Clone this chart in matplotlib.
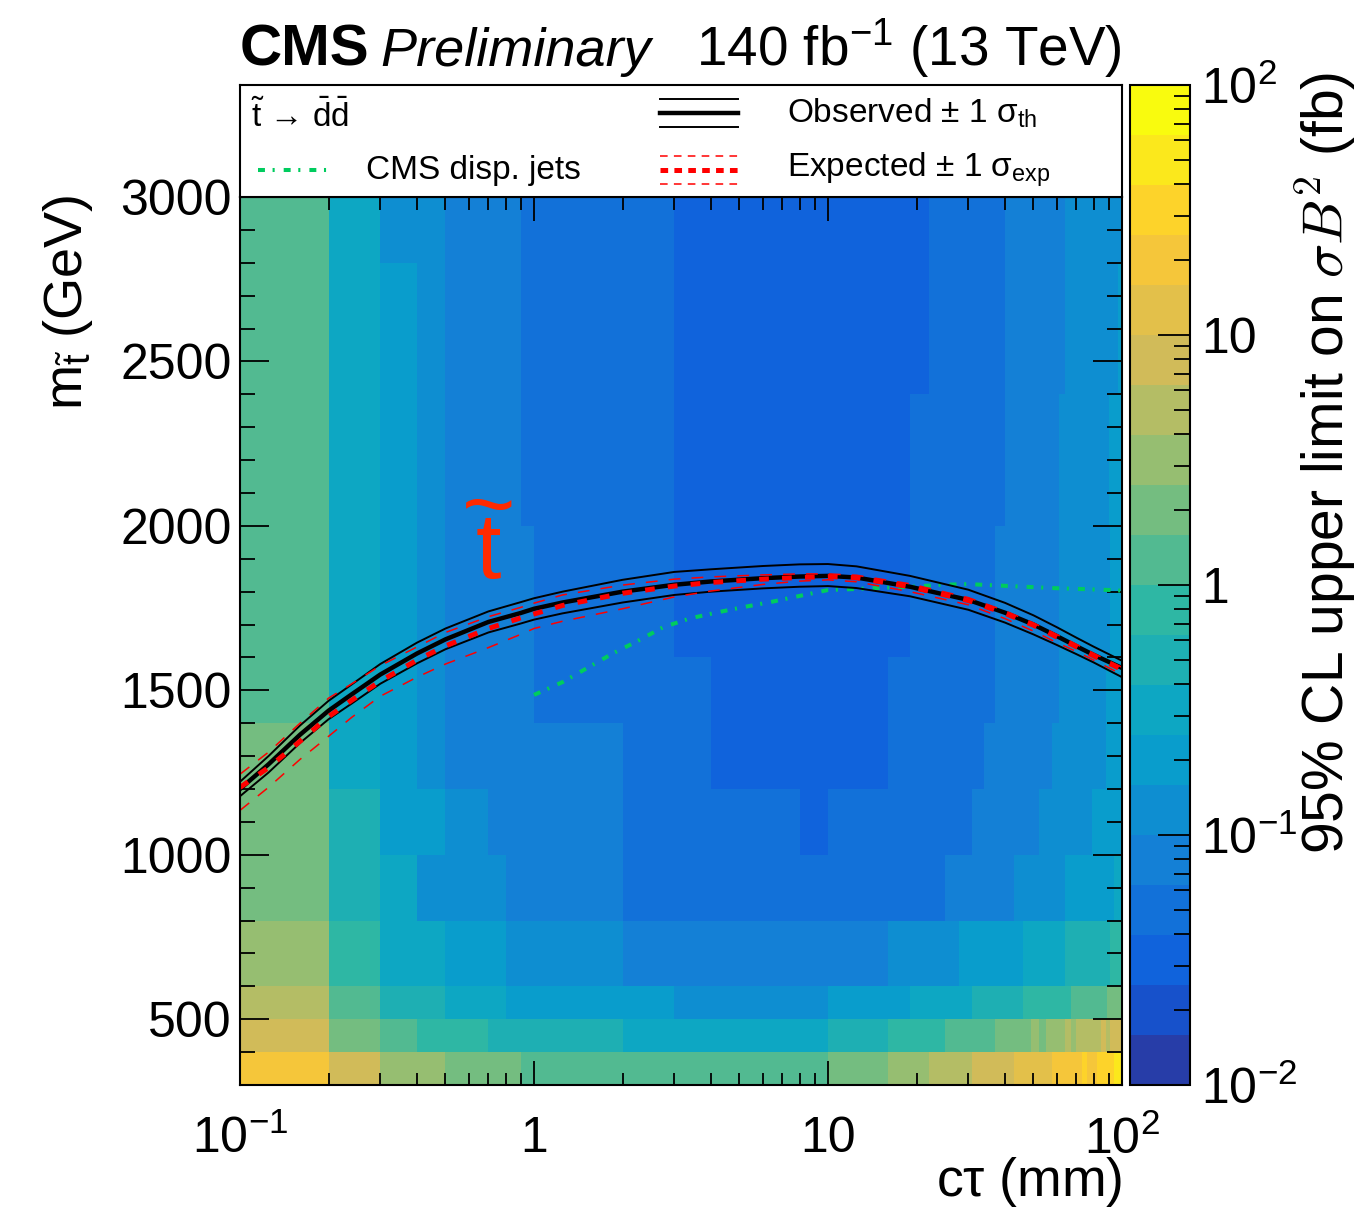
import numpy as np
import matplotlib.pyplot as plt
from matplotlib.colors import ListedColormap, LogNorm
from matplotlib.ticker import FixedLocator, FixedFormatter, NullFormatter

plt.rcParams['font.family'] = ['Liberation Sans', 'DejaVu Sans']
plt.rcParams['mathtext.fontset'] = 'custom'
plt.rcParams['mathtext.rm'] = 'Liberation Sans'
plt.rcParams['mathtext.it'] = 'Liberation Sans:italic'
plt.rcParams['mathtext.bf'] = 'Liberation Sans:bold'
plt.rcParams['mathtext.sf'] = 'Liberation Sans'
plt.rcParams['lines.scale_dashes'] = False

# ---- 95% CL upper limits on sigma*B^2 (fb) ----
# stop-mass bands (GeV); every band has its own ctau bin edges (mm) and limits
mass_edges = [300, 400, 500, 600, 800, 1000, 1200, 1400, 1600, 1800, 2000,
              2200, 2400, 2600, 2800, 3000]

ctau_m300 = [0.1, 0.2, 0.3, 0.5, 0.9, 10, 16, 22, 31, 43, 58, 73, 76, 82, 88, 94, 100]
ul_m300 = [20, 8.0, 3.2, 2.0, 1.3, 2.0, 3.2, 5.0, 8.0, 13, 20, 32, 22, 30, 35, 45]

ctau_m400 = [0.1, 0.2, 0.3, 0.4, 0.7, 2, 10, 16, 25, 37, 49, 52, 55, 64, 67, 70, 85, 88, 91, 100]
ul_m400 = [8.0, 2.0, 1.3, 0.8, 0.5, 0.32, 0.5, 0.8, 1.3, 2.0, 3.2, 2.2, 3.5, 4.5, 3.8, 5.5, 7.0, 6.0, 8.0]

ctau_m500 = [0.1, 0.2, 0.3, 0.5, 0.8, 3, 10, 19, 31, 46, 67, 89, 100]
ul_m500 = [5.0, 1.3, 0.5, 0.32, 0.2, 0.13, 0.2, 0.32, 0.5, 0.8, 1.3, 2.0]

ctau_m600 = [0.1, 0.2, 0.3, 0.5, 0.8, 2, 16, 28, 46, 64, 91, 100]
ul_m600 = [3.2, 0.8, 0.32, 0.2, 0.13, 0.08, 0.13, 0.2, 0.32, 0.5, 0.8]

ctau_m800 = [0.1, 0.2, 0.3, 0.4, 0.8, 2, 25, 43, 64, 94, 100]
ul_m800 = [2.0, 0.5, 0.32, 0.13, 0.08, 0.05, 0.08, 0.13, 0.2, 0.32]

ctau_m1000 = [0.1, 0.2, 0.3, 0.5, 0.7, 2, 8, 10, 31, 52, 79, 100]
ul_m1000 = [2.0, 0.5, 0.2, 0.13, 0.08, 0.05, 0.032, 0.05, 0.08, 0.13, 0.2]

ctau_m1200 = [0.1, 0.2, 0.3, 0.4, 0.5, 2, 4, 16, 34, 58, 88, 100]
ul_m1200 = [2.0, 0.32, 0.2, 0.13, 0.08, 0.05, 0.032, 0.05, 0.08, 0.13, 0.2]

ctau_m1400 = [0.1, 0.2, 0.3, 0.4, 0.5, 1, 4, 16, 37, 61, 88, 100]
ul_m1400 = [1.3, 0.32, 0.2, 0.13, 0.08, 0.05, 0.032, 0.05, 0.08, 0.13, 0.2]

ctau_m1600 = [0.1, 0.2, 0.3, 0.4, 0.5, 1, 3, 19, 37, 61, 91, 100]
ul_m1600 = [1.3, 0.32, 0.2, 0.13, 0.08, 0.05, 0.032, 0.05, 0.08, 0.13, 0.2]

ctau_m1800 = [0.1, 0.2, 0.3, 0.4, 0.5, 1, 3, 19, 37, 61, 91, 100]
ul_m1800 = [1.3, 0.32, 0.2, 0.13, 0.08, 0.05, 0.032, 0.05, 0.08, 0.13, 0.2]

ctau_m2000 = [0.1, 0.2, 0.3, 0.4, 0.5, 0.9, 3, 19, 40, 61, 90, 100]
ul_m2000 = [1.3, 0.32, 0.2, 0.13, 0.08, 0.05, 0.032, 0.05, 0.08, 0.13, 0.2]

ctau_m2200 = [0.1, 0.2, 0.3, 0.4, 0.5, 0.9, 3, 19, 40, 61, 90, 100]
ul_m2200 = [1.3, 0.32, 0.2, 0.13, 0.08, 0.05, 0.032, 0.05, 0.08, 0.13, 0.2]

ctau_m2400 = [0.1, 0.2, 0.3, 0.4, 0.5, 0.9, 3, 22, 40, 64, 97, 100]
ul_m2400 = [1.3, 0.32, 0.2, 0.13, 0.08, 0.05, 0.032, 0.05, 0.08, 0.13, 0.2]

ctau_m2600 = [0.1, 0.2, 0.3, 0.4, 0.5, 0.9, 3, 22, 40, 64, 97, 100]
ul_m2600 = [1.3, 0.32, 0.2, 0.13, 0.08, 0.05, 0.032, 0.05, 0.08, 0.13, 0.2]

ctau_m2800 = [0.1, 0.2, 0.3, 0.5, 0.9, 3, 22, 40, 64, 100]
ul_m2800 = [1.3, 0.32, 0.13, 0.08, 0.05, 0.032, 0.05, 0.08, 0.13]

bands = [(ctau_m300, ul_m300), (ctau_m400, ul_m400), (ctau_m500, ul_m500),
         (ctau_m600, ul_m600), (ctau_m800, ul_m800), (ctau_m1000, ul_m1000),
         (ctau_m1200, ul_m1200), (ctau_m1400, ul_m1400), (ctau_m1600, ul_m1600),
         (ctau_m1800, ul_m1800), (ctau_m2000, ul_m2000), (ctau_m2200, ul_m2200),
         (ctau_m2400, ul_m2400), (ctau_m2600, ul_m2600), (ctau_m2800, ul_m2800)]

# ---- exclusion contours ----
lim_ctau = [0.1, 0.125, 0.16, 0.2, 0.24, 0.3, 0.4, 0.5, 0.7, 0.9, 1.0, 1.25, 2, 3,
            4, 6, 8, 10, 12.5, 19, 30, 40, 50, 60, 70, 80, 100]
obs_mass = [1200, 1275, 1365, 1438, 1488, 1548, 1612, 1655, 1708, 1735, 1748, 1767,
            1800, 1821, 1831, 1841, 1846, 1848, 1843, 1815, 1775, 1736, 1700, 1665,
            1634, 1608, 1568]
obs_up = [1222, 1300, 1393, 1468, 1518, 1580, 1645, 1688, 1740, 1768, 1780, 1800,
          1836, 1860, 1868, 1878, 1883, 1884, 1877, 1848, 1806, 1766, 1728, 1692,
          1660, 1633, 1590]
obs_dn = [1178, 1250, 1340, 1412, 1460, 1520, 1582, 1625, 1676, 1703, 1715, 1734,
          1767, 1790, 1800, 1810, 1815, 1817, 1811, 1786, 1745, 1706, 1670, 1638,
          1610, 1585, 1540]
exp_mass = [1205, 1265, 1345, 1420, 1470, 1528, 1592, 1635, 1688, 1720, 1732, 1758,
            1795, 1817, 1828, 1838, 1843, 1846, 1842, 1815, 1773, 1734, 1698, 1662,
            1632, 1605, 1563]
exp_up = [1245, 1312, 1400, 1476, 1520, 1575, 1632, 1676, 1724, 1752, 1765, 1790,
          1820, 1838, 1845, 1851, 1854, 1854, 1850, 1824, 1782, 1742, 1705, 1670,
          1640, 1613, 1570]
exp_dn = [1135, 1205, 1290, 1360, 1418, 1482, 1540, 1580, 1630, 1670, 1688, 1710,
          1748, 1784, 1802, 1822, 1832, 1836, 1830, 1800, 1760, 1718, 1680, 1645,
          1618, 1592, 1548]

# earlier CMS displaced-jets result
dj_ctau = [1, 1.25, 1.86, 2.23, 2.75, 3.4, 4.2, 5.15, 6.5, 8, 10, 12.3, 15.6, 19.3,
           24.3, 30, 37.4, 46.6, 58, 73, 91, 100]
dj_mass = [1486, 1525, 1613, 1648, 1692, 1719, 1737, 1753, 1770, 1787, 1805, 1808,
           1812, 1815, 1821, 1823, 1819, 1815, 1811, 1808, 1805, 1803]

# ROOT kBird palette with 20 contour levels
bird_r = [0.2082, 0.0592, 0.0780, 0.0232, 0.1802, 0.5301, 0.8186, 0.9956, 0.9764]
bird_g = [0.1664, 0.3599, 0.5041, 0.6419, 0.7178, 0.7492, 0.7328, 0.7862, 0.9832]
bird_b = [0.5293, 0.8684, 0.8385, 0.7914, 0.6425, 0.4662, 0.3499, 0.1968, 0.0539]
stops = np.linspace(0, 1, 9)
frac = np.floor((np.arange(20) + 0.99) * 255 / 20) / 254
pal = np.column_stack([np.interp(frac, stops, c) for c in (bird_r, bird_g, bird_b)])
cmap = ListedColormap(pal)
norm = LogNorm(vmin=1e-2, vmax=1e2)

# put all bands on one common ctau grid
all_edges = np.array(sorted(set(e for ed, _ in bands for e in ed)))
mids = np.sqrt(all_edges[:-1] * all_edges[1:])
Z = np.array([np.asarray(v)[np.searchsorted(ed, mids, side='right') - 1]
              for ed, v in bands])

W, H = 1357, 1208
fig = plt.figure(figsize=(W / 100, H / 100), dpi=100)


def box(l, t, r, b):
    return [l / W, 1 - b / H, (r - l) / W, (b - t) / H]


ax = fig.add_axes(box(240, 197, 1122, 1085))
lax = fig.add_axes(box(240, 85, 1122, 197))
cax = fig.add_axes(box(1130, 85, 1190, 1085))

mesh = ax.pcolormesh(all_edges, mass_edges, Z, cmap=cmap, norm=norm,
                     shading='flat', antialiased=False, linewidth=0)

red = '#ff0000'
green = '#00cc5e'
ax.plot(dj_ctau, dj_mass, color=green, lw=2.9, dashes=(5, 5.5, 1.5, 6.5))
ax.plot(lim_ctau, obs_up, color='k', lw=1.4)
ax.plot(lim_ctau, obs_dn, color='k', lw=1.4)
ax.plot(lim_ctau, obs_mass, color='k', lw=3.2)
ax.plot(lim_ctau, exp_up, color=red, lw=1.1, dashes=(8.5, 8))
ax.plot(lim_ctau, exp_dn, color=red, lw=1.1, dashes=(8.5, 8))
ax.plot(lim_ctau, exp_mass, color=red, lw=3.6, dashes=(7, 9.5))

# big stop label: tilde stacked over the t
ax.text(0.70, 1842, '~\nt', color='#ff2a00', fontsize=66, ha='center',
        va='baseline', multialignment='center', linespacing=0.36)

ax.set_xscale('log')
ax.set_xlim(0.1, 100)
ax.set_ylim(300, 3000)
ax.xaxis.set_major_locator(FixedLocator([0.1, 1, 10, 100]))
ax.xaxis.set_major_formatter(FixedFormatter([r'$10^{-1}$', '1', '10', r'$10^{2}$']))
ax.xaxis.set_minor_locator(FixedLocator([m * d for d in (0.1, 1, 10) for m in range(2, 10)]))
ax.xaxis.set_minor_formatter(NullFormatter())
ax.yaxis.set_major_locator(FixedLocator([500, 1000, 1500, 2000, 2500, 3000]))
ax.yaxis.set_minor_locator(FixedLocator(list(range(300, 3001, 100))))
ax.tick_params(which='both', direction='in', top=True, right=True, width=1.3,
               labelsize=36)
ax.tick_params(axis='x', which='major', length=17, pad=22)
ax.tick_params(axis='x', which='minor', length=9)
ax.tick_params(axis='y', which='major', length=21, pad=6)
ax.tick_params(axis='y', which='minor', length=11)
for s in ax.spines.values():
    s.set_linewidth(1.5)

# colour scale
cb = fig.colorbar(mesh, cax=cax)
cb.outline.set_linewidth(1.5)
cax.yaxis.set_major_locator(FixedLocator([0.01, 0.1, 1, 10, 100]))
cax.yaxis.set_major_formatter(FixedFormatter([r'$10^{-2}$', r'$10^{-1}$', '1', '10', r'$10^{2}$']))
cax.yaxis.set_minor_locator(FixedLocator([m * d for d in (0.01, 0.1, 1, 10) for m in range(2, 10)]))
cax.yaxis.set_minor_formatter(NullFormatter())
cax.tick_params(which='both', direction='in', right=True, left=False, width=1.3,
                labelsize=36, pad=8)
cax.tick_params(which='major', length=23)
cax.tick_params(which='minor', length=11.5)

# legend box
lax.set_xlim(0, 1)
lax.set_ylim(0, 1)
lax.set_xticks([])
lax.set_yticks([])
for s in lax.spines.values():
    s.set_linewidth(1.5)
fs_leg = 24
lax.text(0.012, 0.72, r'$\tilde{\mathrm{t}}$ → $\bar{\mathrm{d}}\bar{\mathrm{d}}$',
         fontsize=fs_leg, va='center')
lax.plot([0.476, 0.565], [0.75, 0.75], color='k', lw=3.2)
lax.plot([0.476, 0.565], [0.875, 0.875], color='k', lw=1.4)
lax.plot([0.476, 0.565], [0.625, 0.625], color='k', lw=1.4)
lax.text(0.62, 0.75, r'Observed $\pm$ 1 $\mathrm{\sigma}_{\mathrm{th}}$', fontsize=fs_leg,
         va='center')
lax.plot([0.0204, 0.1077], [0.24, 0.24], color=green, lw=2.9, dashes=(5, 5.5, 1.5, 6.5))
lax.text(0.143, 0.24, 'CMS disp. jets', fontsize=fs_leg, va='center')
lax.plot([0.476, 0.565], [0.24, 0.24], color=red, lw=3.6, dashes=(5.5, 4.5))
lax.plot([0.476, 0.565], [0.366, 0.366], color=red, lw=1.1, dashes=(5.5, 4.5))
lax.plot([0.476, 0.565], [0.116, 0.116], color=red, lw=1.1, dashes=(5.5, 4.5))
lax.text(0.62, 0.24, r'Expected $\pm$ 1 $\mathrm{\sigma}_{\mathrm{exp}}$', fontsize=fs_leg,
         va='center')

# titles and axis labels
fig.text(240 / W, 1 - 66 / H, 'CMS', fontsize=42, fontweight='bold', va='baseline')
fig.text(380 / W, 1 - 66 / H, 'Preliminary', fontsize=39, fontstyle='italic', va='baseline')
fig.text(1122 / W, 1 - 66 / H, r'140 fb$^{-1}$ (13 TeV)', fontsize=39.5, ha='right',
         va='baseline')
fig.text(1122 / W, 1 - 1196 / H, r'c$\mathrm{\tau}$ (mm)', fontsize=38.5, ha='right',
         va='baseline')
fig.text(68 / W, 1 - 195 / H, r'm$_{\tilde{\mathrm{t}}}$ (GeV)', fontsize=39,
         rotation=90, ha='center', va='top')
fig.text(1325 / W, 1 - 72 / H, r'95% CL upper limit on $\sigma B^{2}$ (fb)', fontsize=41,
         rotation=90, ha='center', va='top', math_fontfamily='cm')

fig.savefig('out.png', dpi=100)
